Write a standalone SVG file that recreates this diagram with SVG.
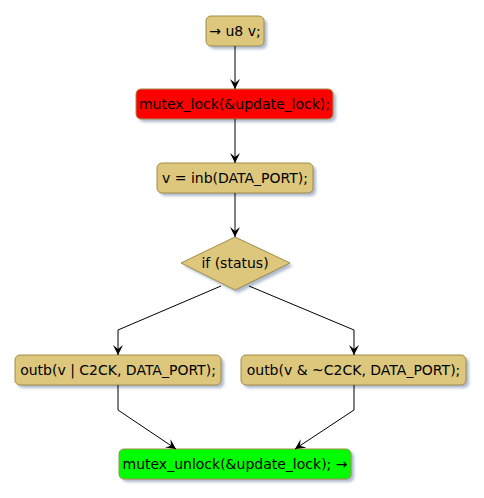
<svg xmlns="http://www.w3.org/2000/svg" width="484" height="498" viewBox="0 0 484 498">
<defs>
<filter id="sh" x="-10%" y="-10%" width="130%" height="150%"><feGaussianBlur stdDeviation="1.5"/></filter>
<marker id="ar" viewBox="0 0 10 10" refX="10" refY="5" markerWidth="10" markerHeight="10" markerUnits="userSpaceOnUse" orient="auto"><path d="M0,0 L10,5 L0,10 L4,5 Z" fill="#000"/></marker>
</defs>
<style>
.n{fill:#DDC77C;stroke:#A28C47;stroke-width:1}
.s{fill:#8A9BB5;opacity:0.7;filter:url(#sh)}
.t{font-family:"DejaVu Sans",sans-serif;font-size:14px;fill:#000;text-anchor:middle}
.e{fill:none;stroke:#000;stroke-width:1;marker-end:url(#ar)}
</style>
<rect width="484" height="498" fill="#fff"/>
<g id="n1"><rect class="s" x="209" y="19" width="58" height="30" rx="5"/><rect class="n" x="206" y="16" width="58" height="30" rx="5"/><text class="t" x="235" y="36">→ u8 v;</text></g>
<g id="n2"><rect class="s" x="139" y="92" width="197" height="30" rx="5"/><rect class="n" style="fill:#FF0000" x="136" y="89" width="197" height="30" rx="5"/><text class="t" x="234.5" y="109">mutex_lock(&amp;update_lock);</text></g>
<g id="n3"><rect class="s" x="160" y="166" width="156" height="30" rx="5"/><rect class="n" x="157" y="163" width="156" height="30" rx="5"/><text class="t" x="235" y="183">v = inb(DATA_PORT);</text></g>
<g id="d1"><polygon class="s" points="238,240 293,266 238,293 184,266"/><polygon class="n" points="235,237 290,263 235,290 181,263"/><text class="t" x="235" y="268">if (status)</text></g>
<g id="n4"><rect class="s" x="18" y="358" width="206" height="30" rx="5"/><rect class="n" x="15" y="355" width="206" height="30" rx="5"/><text class="t" x="118" y="375">outb(v | C2CK, DATA_PORT);</text></g>
<g id="n5"><rect class="s" x="244" y="358" width="225" height="30" rx="5"/><rect class="n" x="241" y="355" width="225" height="30" rx="5"/><text class="t" x="353.5" y="375">outb(v &amp; ~C2CK, DATA_PORT);</text></g>
<g id="n6"><rect class="s" x="122" y="452" width="232" height="30" rx="5"/><rect class="n" style="fill:#00FF00" x="119" y="449" width="232" height="30" rx="5"/><text class="t" x="235" y="469">mutex_unlock(&amp;update_lock); →</text></g>
<g id="edges">
<path class="e" d="M235,46 L235,89"/>
<path class="e" d="M235,119 L235,163"/>
<path class="e" d="M235,193 L235,237"/>
<path class="e" d="M221,286 L118,330 L118,355"/>
<path class="e" d="M249,286 L354,330 L354,355"/>
<path class="e" d="M118,385 L118,410 L176,449"/>
<path class="e" d="M354,385 L354,410 L295,449"/>
</g>
</svg>
